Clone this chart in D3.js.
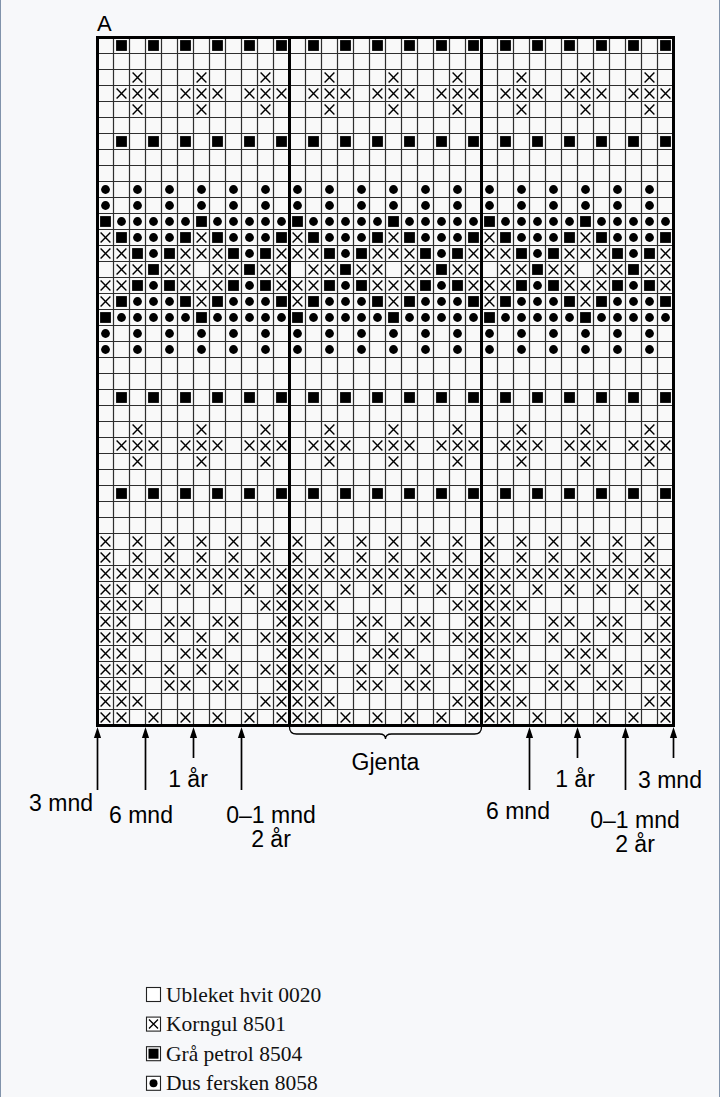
<!DOCTYPE html>
<html>
<head>
<meta charset="utf-8">
<script src="https://cdn.jsdelivr.net/npm/d3@7"></script>
<style>
  html, body { margin: 0; padding: 0; background: #f7f8fa; }
  svg { display: block; }
</style>
</head>
<body>
<svg id="chart" width="720" height="1097"></svg>
<script>
// chart rows, top to bottom: . = blank, x = cross, s = square, o = dot
const chartRows = [
  ".s.s.s.s.s.s.s.s.s.s.s.s.s.s.s.s.s.s",
  "....................................",
  "..x...x...x...x...x...x...x...x...x.",
  ".xxx.xxx.xxx.xxx.xxx.xxx.xxx.xxx.xxx",
  "..x...x...x...x...x...x...x...x...x.",
  "....................................",
  ".s.s.s.s.s.s.s.s.s.s.s.s.s.s.s.s.s.s",
  "....................................",
  "....................................",
  "o.o.o.o.o.o.o.o.o.o.o.o.o.o.o.o.o.o.",
  "o.o.o.o.o.o.o.o.o.o.o.o.o.o.o.o.o.o.",
  "sooooosooooosooooosooooosooooosooooo",
  "xsooosxsooosxsooosxsooosxsooosxsooos",
  "xxsosxxxsosxxxsosxxxsosxxxsosxxxsosx",
  ".xxsxx.xxsxx.xxsxx.xxsxx.xxsxx.xxsxx",
  "xxsosxxxsosxxxsosxxxsosxxxsosxxxsosx",
  "xsooosxsooosxsooosxsooosxsooosxsooos",
  "sooooosooooosooooosooooosooooosooooo",
  "o.o.o.o.o.o.o.o.o.o.o.o.o.o.o.o.o.o.",
  "o.o.o.o.o.o.o.o.o.o.o.o.o.o.o.o.o.o.",
  "....................................",
  "....................................",
  ".s.s.s.s.s.s.s.s.s.s.s.s.s.s.s.s.s.s",
  "....................................",
  "..x...x...x...x...x...x...x...x...x.",
  ".xxx.xxx.xxx.xxx.xxx.xxx.xxx.xxx.xxx",
  "..x...x...x...x...x...x...x...x...x.",
  "....................................",
  ".s.s.s.s.s.s.s.s.s.s.s.s.s.s.s.s.s.s",
  "....................................",
  "....................................",
  "x.x.x.x.x.x.x.x.x.x.x.x.x.x.x.x.x.x.",
  "x.x.x.x.x.x.x.x.x.x.x.x.x.x.x.x.x.x.",
  "xxxxxxxxxxxxxxxxxxxxxxxxxxxxxxxxxxxx",
  "xx.x.x.x.x.xxx.x.x.x.x.xxx.x.x.x.x.x",
  "xxx.......xxxxx.......xxxxx.......xx",
  "xx..xx.xx..xxx..xx.xx..xxx..xx.xx..x",
  "xxx.x.x.x.xxxxx.x.x.x.xxxxx.x.x.x.xx",
  "xx...xxx...xxx...xxx...xxx...xxx...x",
  "xxx.x.x.x.xxxxx.x.x.x.xxxxx.x.x.x.xx",
  "xx..xx.xx..xxx..xx.xx..xxx..xx.xx..x",
  "xxx.......xxxxx.......xxxxx.......xx",
  "xx.x.x.x.x.xxx.x.x.x.x.xxx.x.x.x.x.x"
];
const repeatCols = [12, 24];          // thick repeat lines
const sizeCols   = [0, 3, 6, 9, 27, 30, 33, 36];
const sizeLabels = [["3 mnd"], ["6 mnd"], ["1 år"], ["0–1 mnd", "2 år"],
                    ["6 mnd"], ["1 år"], ["0–1 mnd", "2 år"], ["3 mnd"]];
const repeatLabel = "Gjenta";
const chartTitle = "A";
const legendSymbols = [".", "x", "s", "o"];
const legendLabels = ["Ubleket hvit 0020", "Korngul 8501", "Grå petrol 8504", "Dus fersken 8058"];

const svg = d3.select("#chart");
const nCols = chartRows[0].length, nRows = chartRows.length;

const x = d3.scaleLinear().domain([0, nCols]).range([97.5, 673.5]);
const y = d3.scaleLinear().domain([0, nRows]).range([37.5, 725.5]);

svg.append("rect").attr("width", 720).attr("height", 1097).attr("fill", "#f7f8fa");
svg.append("line").attr("x1", 0.5).attr("x2", 0.5).attr("y1", 0).attr("y2", 1097)
  .attr("stroke", "#8193ab").attr("stroke-width", 1);
svg.append("line").attr("x1", 719.5).attr("x2", 719.5).attr("y1", 0).attr("y2", 1097)
  .attr("stroke", "#8193ab").attr("stroke-width", 1);

const g = svg.append("g");
g.append("rect").attr("x", x(0)).attr("y", y(0))
  .attr("width", x(nCols) - x(0)).attr("height", y(nRows) - y(0)).attr("fill", "#f9f9f9");

// thin grid
g.selectAll("line.v").data(d3.range(1, nCols)).enter().append("line")
  .attr("x1", d => x(d)).attr("x2", d => x(d)).attr("y1", y(0)).attr("y2", y(nRows))
  .attr("stroke", "#2e2e2e").attr("stroke-width", 1.2);
g.selectAll("line.h").data(d3.range(1, nRows)).enter().append("line")
  .attr("x1", x(0)).attr("x2", x(nCols)).attr("y1", d => y(d)).attr("y2", d => y(d))
  .attr("stroke", "#2e2e2e").attr("stroke-width", 1.2);

function drawSymbol(sel, type, cx, cy) {
  if (type === "s") {
    sel.append("rect").attr("x", cx - 5.4).attr("y", cy - 5.4)
      .attr("width", 10.8).attr("height", 10.8).attr("fill", "#000");
  } else if (type === "o") {
    sel.append("circle").attr("cx", cx).attr("cy", cy).attr("r", 4.4).attr("fill", "#000");
  } else if (type === "x") {
    const h = 4.9;
    sel.append("path")
      .attr("d", `M${cx - h},${cy - h}L${cx + h},${cy + h}M${cx + h},${cy - h}L${cx - h},${cy + h}`)
      .attr("stroke", "#000").attr("stroke-width", 1.4).attr("fill", "none");
  }
}

const cells = [];
chartRows.forEach((row, r) => row.split("").forEach((t, c) => { if (t !== ".") cells.push({r, c, t}); }));
const sg = g.append("g");
cells.forEach(d => drawSymbol(sg, d.t, x(d.c + 0.5), y(d.r + 0.5)));

// thick lines
[0, ...repeatCols, nCols].forEach(c => {
  g.append("line").attr("x1", x(c)).attr("x2", x(c)).attr("y1", y(0) - 1.5).attr("y2", y(nRows) + 1.5)
    .attr("stroke", "#000").attr("stroke-width", 3);
});
[0, nRows].forEach(r => {
  g.append("line").attr("x1", x(0) - 1.5).attr("x2", x(nCols) + 1.5).attr("y1", y(r)).attr("y2", y(r))
    .attr("stroke", "#000").attr("stroke-width", 3);
});

const font = "'Liberation Sans', Arial, Helvetica, sans-serif";
const fs = 23;
svg.append("text").attr("x", 97).attr("y", 31).text(chartTitle)
  .attr("font-family", font).attr("font-size", 22).attr("fill", "#000");

// size arrows
const arrowEnd = [790, 790, 758, 790, 790, 758, 790, 758];
const labelPos = [
  {x: 93, y: 811, a: "end"}, {x: 141, y: 823, a: "middle"}, {x: 188, y: 787, a: "middle"},
  {x: 271, y: 823, a: "middle"}, {x: 518, y: 819, a: "middle"}, {x: 575, y: 787, a: "middle"},
  {x: 635, y: 828, a: "middle"}, {x: 638, y: 788, a: "start"}
];
const yb = y(nRows) + 1.5;
sizeCols.forEach((c, i) => {
  const ax = x(c);
  svg.append("line").attr("x1", ax).attr("x2", ax).attr("y1", yb + 8).attr("y2", arrowEnd[i])
    .attr("stroke", "#000").attr("stroke-width", 1.7);
  svg.append("path").attr("d", `M${ax},${yb}L${ax - 3.6},${yb + 11}L${ax + 3.6},${yb + 11}Z`).attr("fill", "#000");
  const t = svg.append("text").attr("font-family", font).attr("font-size", fs)
    .attr("text-anchor", labelPos[i].a).attr("fill", "#000");
  sizeLabels[i].forEach((s, k) => {
    t.append("tspan").attr("x", labelPos[i].x).attr("y", labelPos[i].y + k * 24).text(s);
  });
});

// repeat brace
const bx0 = x(repeatCols[0]), bx1 = x(repeatCols[1]), bm = (bx0 + bx1) / 2;
svg.append("path")
  .attr("d", `M${bx0},${yb}Q${bx0},${yb + 7} ${bx0 + 7},${yb + 7}L${bm - 6},${yb + 7}Q${bm},${yb + 7} ${bm},${yb + 12}` +
             `Q${bm},${yb + 7} ${bm + 6},${yb + 7}L${bx1 - 7},${yb + 7}Q${bx1},${yb + 7} ${bx1},${yb}`)
  .attr("fill", "none").attr("stroke", "#000").attr("stroke-width", 1.3);
svg.append("text").attr("x", bm).attr("y", 770).attr("text-anchor", "middle")
  .attr("font-family", font).attr("font-size", fs).text(repeatLabel);

// legend
const lg = svg.append("g");
const serif = "'Liberation Serif', 'Times New Roman', Times, serif";
legendLabels.forEach((lab, i) => {
  const ly = 994.5 + i * 29.6;
  lg.append("rect").attr("x", 146.5).attr("y", ly - 7).attr("width", 14).attr("height", 14)
    .attr("fill", "#fff").attr("stroke", "#222").attr("stroke-width", 1.1);
  const s = legendSymbols[i];
  if (s === "x") {
    lg.append("path").attr("d", `M${149},${ly - 4.5}L${158},${ly + 4.5}M${158},${ly - 4.5}L${149},${ly + 4.5}`)
      .attr("stroke", "#000").attr("stroke-width", 1.4);
  } else if (s === "s") {
    lg.append("rect").attr("x", 148.5).attr("y", ly - 5).attr("width", 10).attr("height", 10).attr("fill", "#000");
  } else if (s === "o") {
    lg.append("circle").attr("cx", 153.5).attr("cy", ly).attr("r", 4).attr("fill", "#000");
  }
  lg.append("text").attr("x", 166).attr("y", ly + 7).text(lab)
    .attr("font-family", serif).attr("font-size", 21.5).attr("fill", "#111");
});
</script>
</body>
</html>
